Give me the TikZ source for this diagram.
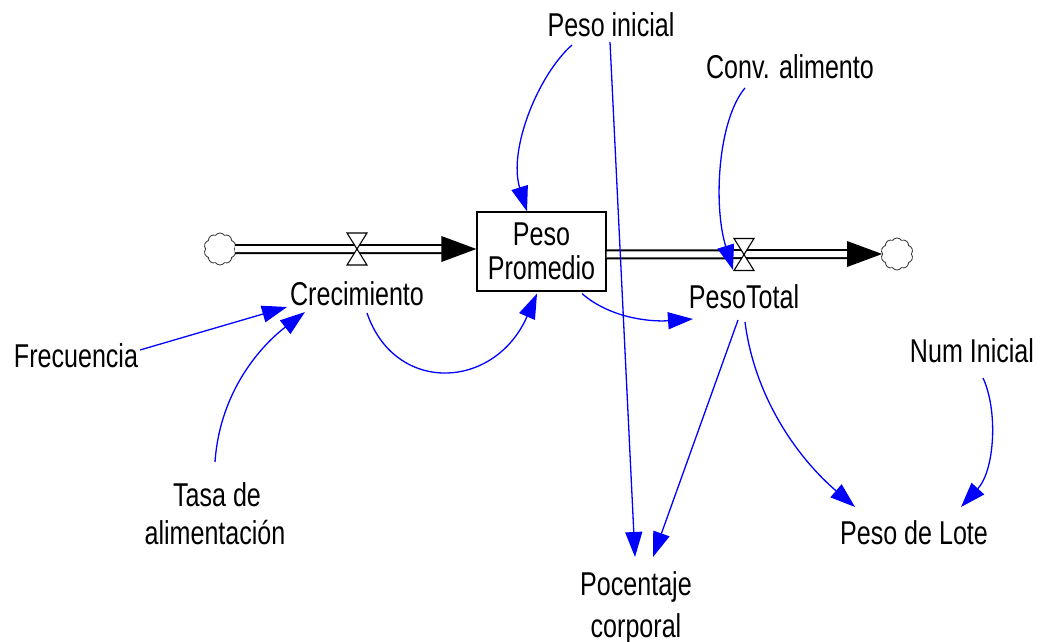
\documentclass[tikz,border=0pt]{standalone}
\usepackage{fontspec}
\setmainfont{Liberation Sans}[FakeStretch=0.76]
\usetikzlibrary{arrows.meta,calc,shapes.symbols}
\begin{document}
\begin{tikzpicture}[x=1pt,y=-1pt,
  lbl/.style={inner sep=0pt, anchor=base, font=\fontsize{33}{38}\selectfont},
  stock/.style={draw, line width=1.2pt, minimum width=129pt, minimum height=79pt, inner sep=0pt, align=center, font=\fontsize{33}{34}\selectfont},
  src/.style={cloud, draw, cloud puffs=10, cloud puff arc=110, aspect=1, minimum width=32pt, minimum height=32pt, inner sep=0pt, line width=0.9pt, draw=black!75},
  pipe/.style={draw, line width=2pt, double=white, double distance=6pt},
  flowhead/.style={fill=black},
  link/.style={draw=blue, line width=1.3pt, -{Triangle[length=25pt,width=17pt]}},
  valve/.pic={\draw[fill=white, line width=1.1pt] (-10,-16) -- (10,-16) -- (0,0) -- cycle (-10,16) -- (10,16) -- (0,0) -- cycle;}
]
\useasboundingbox (0,0) rectangle (1045,642);

% stock and clouds
\node[stock] (box) at (541.5,251.5) {Peso\\Promedio};
\node[src] (cloudL) at (220,249) {};
\node[src] (cloudR) at (897,254) {};
\coordinate (vL) at (357,249);
\coordinate (vR) at (744,254.5);

% labels
\node[lbl] (pesoini) at (611,37) {Peso inicial};
\node[lbl] (conv) at (790,78) {Conv. alimento};
\node[lbl] (frec) at (76,367) {Frecuencia};
\node[lbl] (tasa1) at (217,506) {Tasa de};
\node[lbl] (tasa2) at (215,544) {alimentación};
\node[lbl] (numini) at (972,362) {Num Inicial};
\node[lbl] (crec) at (357,305) {Crecimiento};
\node[lbl] (pesotot) at (744,308) {PesoTotal};
\node[lbl] (lote) at (914,544) {Peso de Lote};
\node[lbl] (poc1) at (636,595) {Pocentaje};
\node[lbl] (poc2) at (636,637) {corporal};

% flows
\coordinate (inTip) at (box.west |- vL);
\coordinate (outStart) at (box.east |- vR);
\coordinate (outTip) at (cloudR.west);
\draw[pipe] (cloudL.east) -- ($(inTip)+(-34,0)$);
\fill[flowhead] (inTip) -- ($(inTip)+(-35,-13)$) -- ($(inTip)+(-35,13)$) -- cycle;
\draw[pipe] (outStart) -- ($(outTip)+(-34,0)$);
\fill[flowhead] (outTip) -- ($(outTip)+(-35,-13)$) -- ($(outTip)+(-35,13)$) -- cycle;
\pic at (vL) {valve};
\pic at (vR) {valve};

% links
\draw[link] ($(pesoini.base)+(-39,8)$) .. controls (538,75) and (508,150) .. ($(box.north)+(-14.5,0)$);
\draw[link] ($(pesoini.base)+(-1,5)$) -- ($(poc1.base)+(-1,-38)$);
\draw[link] ($(conv.base)+(-45,10)$) .. controls (718,120) and (713,205) .. ($(vR)+(-11,15.5)$);
\draw[link] ($(frec.base)+(64,-17)$) -- ($(crec.base)+(-70,2)$);
\draw[link] ($(tasa1.base)+(-2,-44)$) .. controls (220,390) and (262,345) .. ($(crec.base)+(-52,7)$);
\draw[link] ($(crec.base)+(10,8)$) .. controls (395,395) and (495,390) .. ($(box.south)+(-4.5,2)$);
\draw[link] ($(box.south)+(40.5,2)$) .. controls (610,318) and (650,322) .. ($(pesotot.base)+(-51,11)$);
\draw[link] ($(pesotot.base)+(-6,12)$) -- ($(poc1.base)+(17,-38)$);
\draw[link] ($(pesotot.base)+(1,14)$) .. controls (755,400) and (800,460) .. ($(lote.base)+(-59,-37)$);
\draw[link] ($(numini.base)+(11,16)$) .. controls (998,410) and (995,470) .. ($(lote.base)+(47,-37)$);
\end{tikzpicture}
\end{document}
